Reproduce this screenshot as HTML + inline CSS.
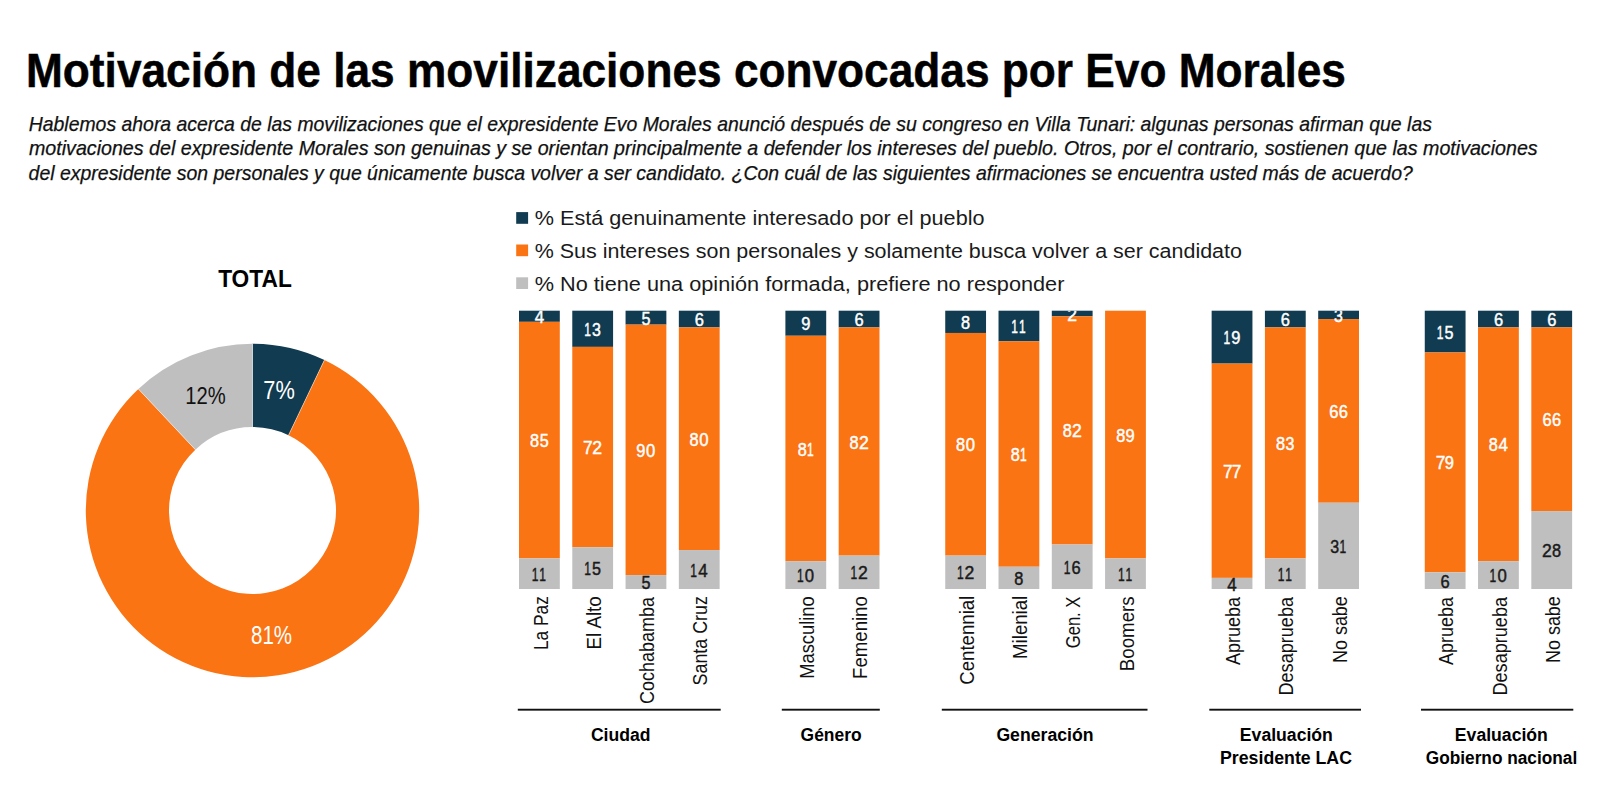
<!DOCTYPE html>
<html lang="es"><head><meta charset="utf-8"><title>Motivación de las movilizaciones convocadas por Evo Morales</title>
<style>
html,body{margin:0;padding:0;background:#fff;width:1600px;height:787px;overflow:hidden}
svg{display:block;font-family:"Liberation Sans",Arial,sans-serif}
</style></head><body>
<svg width="1600" height="787" viewBox="0 0 1600 787">
<defs><clipPath id="plotclip"><rect x="0" y="310.7" width="1600" height="476.3"/></clipPath></defs>
<rect width="1600" height="787" fill="#fff"/>
<text x="26.03" y="87.00" font-size="48.70" font-weight="bold" fill="#000000" textLength="1319.89" lengthAdjust="spacingAndGlyphs" stroke="#000" stroke-width="0.5">Motivación de las movilizaciones convocadas por Evo Morales</text>
<text x="28.72" y="131.00" font-size="20.29" font-style="italic" fill="#111111" textLength="1403.16" lengthAdjust="spacingAndGlyphs" stroke="#111111" stroke-width="0.25">Hablemos ahora acerca de las movilizaciones que el expresidente Evo Morales anunció después de su congreso en Villa Tunari: algunas personas afirman que las</text>
<text x="29.01" y="155.40" font-size="20.29" font-style="italic" fill="#111111" textLength="1508.65" lengthAdjust="spacingAndGlyphs" stroke="#111111" stroke-width="0.25">motivaciones del expresidente Morales son genuinas y se orientan principalmente a defender los intereses del pueblo. Otros, por el contrario, sostienen que las motivaciones</text>
<text x="28.62" y="180.10" font-size="20.29" font-style="italic" fill="#111111" textLength="1384.18" lengthAdjust="spacingAndGlyphs" stroke="#111111" stroke-width="0.25">del expresidente son personales y que únicamente busca volver a ser candidato. ¿Con cuál de las siguientes afirmaciones se encuentra usted más de acuerdo?</text>
<rect x="516.2" y="212.1" width="11.9" height="11.7" fill="#113B50"/>
<text x="534.74" y="225.40" font-size="20.58" fill="#1a1a1a" textLength="449.78" lengthAdjust="spacingAndGlyphs">% Está genuinamente interesado por el pueblo</text>
<rect x="516.2" y="244.5" width="11.9" height="11.7" fill="#FA7414"/>
<text x="534.75" y="257.80" font-size="20.58" fill="#1a1a1a" textLength="707.17" lengthAdjust="spacingAndGlyphs">% Sus intereses son personales y solamente busca volver a ser candidato</text>
<rect x="516.2" y="277.3" width="11.9" height="11.7" fill="#BFBFBF"/>
<text x="534.74" y="290.50" font-size="20.58" fill="#1a1a1a" textLength="529.69" lengthAdjust="spacingAndGlyphs">% No tiene una opinión formada, prefiere no responder</text>
<text x="218.17" y="286.90" font-size="24.35" font-weight="bold" fill="#000000" textLength="73.62" lengthAdjust="spacingAndGlyphs">TOTAL</text>
<path d="M252.50,343.80 A166.7,166.7 0 0 1 324.42,360.11 L288.53,435.17 A83.5,83.5 0 0 0 252.50,427.00 Z" fill="#113B50"/>
<path d="M324.42,360.11 A166.7,166.7 0 1 1 138.39,388.98 L195.34,449.63 A83.5,83.5 0 1 0 288.53,435.17 Z" fill="#FA7414"/>
<path d="M138.39,388.98 A166.7,166.7 0 0 1 252.50,343.80 L252.50,427.00 A83.5,83.5 0 0 0 195.34,449.63 Z" fill="#BFBFBF"/>
<line x1="252.50" y1="427.00" x2="252.50" y2="343.80" stroke="#fff" stroke-width="0.6" stroke-opacity="0.8"/>
<line x1="288.53" y1="435.17" x2="324.42" y2="360.11" stroke="#fff" stroke-width="0.6" stroke-opacity="0.8"/>
<line x1="195.34" y1="449.63" x2="138.39" y2="388.98" stroke="#fff" stroke-width="0.6" stroke-opacity="0.8"/>
<text x="263.31" y="398.80" font-size="25.22" fill="#ffffff" textLength="31.46" lengthAdjust="spacingAndGlyphs">7%</text>
<text x="185.28" y="404.00" font-size="24.64" fill="#111111" textLength="40.45" lengthAdjust="spacingAndGlyphs">12%</text>
<text x="250.98" y="644.30" font-size="25.71" fill="#ffffff" textLength="41.07" lengthAdjust="spacingAndGlyphs">81%</text>
<rect x="519.00" y="310.70" width="40.8" height="11.13" fill="#113B50"/>
<rect x="519.00" y="321.83" width="40.8" height="236.56" fill="#FA7414"/>
<rect x="519.00" y="558.39" width="40.8" height="30.61" fill="#BFBFBF"/>
<g transform="translate(547.50,648.70) rotate(-90)">
<text x="-1.39" y="0.00" font-size="20.87" fill="#111111" textLength="53.92" lengthAdjust="spacingAndGlyphs">La Paz</text>
</g>
<rect x="572.28" y="310.70" width="40.8" height="36.18" fill="#113B50"/>
<rect x="572.28" y="346.88" width="40.8" height="200.38" fill="#FA7414"/>
<rect x="572.28" y="547.26" width="40.8" height="41.74" fill="#BFBFBF"/>
<g transform="translate(600.78,648.00) rotate(-90)">
<text x="-1.50" y="0.00" font-size="20.87" fill="#111111" textLength="53.26" lengthAdjust="spacingAndGlyphs">El Alto</text>
</g>
<rect x="625.56" y="310.70" width="40.8" height="13.91" fill="#113B50"/>
<rect x="625.56" y="324.62" width="40.8" height="250.47" fill="#FA7414"/>
<rect x="625.56" y="575.09" width="40.8" height="13.91" fill="#BFBFBF"/>
<g transform="translate(654.06,703.20) rotate(-90)">
<text x="-0.90" y="0.00" font-size="20.87" fill="#111111" textLength="107.16" lengthAdjust="spacingAndGlyphs">Cochabamba</text>
</g>
<rect x="678.84" y="310.70" width="40.8" height="16.70" fill="#113B50"/>
<rect x="678.84" y="327.40" width="40.8" height="222.64" fill="#FA7414"/>
<rect x="678.84" y="550.04" width="40.8" height="38.96" fill="#BFBFBF"/>
<g transform="translate(707.34,684.60) rotate(-90)">
<text x="-0.80" y="0.00" font-size="20.87" fill="#111111" textLength="89.25" lengthAdjust="spacingAndGlyphs">Santa Cruz</text>
</g>
<rect x="785.40" y="310.70" width="40.8" height="25.05" fill="#113B50"/>
<rect x="785.40" y="335.75" width="40.8" height="225.42" fill="#FA7414"/>
<rect x="785.40" y="561.17" width="40.8" height="27.83" fill="#BFBFBF"/>
<g transform="translate(813.90,677.40) rotate(-90)">
<text x="-1.47" y="0.00" font-size="20.87" fill="#111111" textLength="82.64" lengthAdjust="spacingAndGlyphs">Masculino</text>
</g>
<rect x="838.68" y="310.70" width="40.8" height="16.70" fill="#113B50"/>
<rect x="838.68" y="327.40" width="40.8" height="228.21" fill="#FA7414"/>
<rect x="838.68" y="555.60" width="40.8" height="33.40" fill="#BFBFBF"/>
<g transform="translate(867.18,677.40) rotate(-90)">
<text x="-1.49" y="0.00" font-size="20.87" fill="#111111" textLength="82.67" lengthAdjust="spacingAndGlyphs">Femenino</text>
</g>
<rect x="945.24" y="310.70" width="40.8" height="22.26" fill="#113B50"/>
<rect x="945.24" y="332.96" width="40.8" height="222.64" fill="#FA7414"/>
<rect x="945.24" y="555.60" width="40.8" height="33.40" fill="#BFBFBF"/>
<g transform="translate(973.74,683.80) rotate(-90)">
<text x="-0.93" y="0.00" font-size="20.87" fill="#111111" textLength="88.97" lengthAdjust="spacingAndGlyphs">Centennial</text>
</g>
<rect x="998.52" y="310.70" width="40.8" height="30.61" fill="#113B50"/>
<rect x="998.52" y="341.31" width="40.8" height="225.42" fill="#FA7414"/>
<rect x="998.52" y="566.74" width="40.8" height="22.26" fill="#BFBFBF"/>
<g transform="translate(1027.02,657.40) rotate(-90)">
<text x="-1.49" y="0.00" font-size="20.87" fill="#111111" textLength="63.10" lengthAdjust="spacingAndGlyphs">Milenial</text>
</g>
<rect x="1051.80" y="310.70" width="40.8" height="5.57" fill="#113B50"/>
<rect x="1051.80" y="316.27" width="40.8" height="228.21" fill="#FA7414"/>
<rect x="1051.80" y="544.47" width="40.8" height="44.53" fill="#BFBFBF"/>
<g transform="translate(1080.30,647.40) rotate(-90)">
<text x="-0.83" y="0.00" font-size="20.87" fill="#111111" textLength="51.61" lengthAdjust="spacingAndGlyphs">Gen. X</text>
</g>
<rect x="1105.08" y="310.70" width="40.8" height="247.69" fill="#FA7414"/>
<rect x="1105.08" y="558.39" width="40.8" height="30.61" fill="#BFBFBF"/>
<g transform="translate(1133.58,669.70) rotate(-90)">
<text x="-1.50" y="0.00" font-size="20.87" fill="#111111" textLength="74.88" lengthAdjust="spacingAndGlyphs">Boomers</text>
</g>
<rect x="1211.64" y="310.70" width="40.8" height="52.88" fill="#113B50"/>
<rect x="1211.64" y="363.58" width="40.8" height="214.29" fill="#FA7414"/>
<rect x="1211.64" y="577.87" width="40.8" height="11.13" fill="#BFBFBF"/>
<g transform="translate(1240.14,665.10) rotate(-90)">
<text x="0.00" y="0.00" font-size="20.87" fill="#111111" textLength="68.12" lengthAdjust="spacingAndGlyphs">Aprueba</text>
</g>
<rect x="1264.92" y="310.70" width="40.8" height="16.70" fill="#113B50"/>
<rect x="1264.92" y="327.40" width="40.8" height="230.99" fill="#FA7414"/>
<rect x="1264.92" y="558.39" width="40.8" height="30.61" fill="#BFBFBF"/>
<g transform="translate(1293.42,694.10) rotate(-90)">
<text x="-1.45" y="0.00" font-size="20.87" fill="#111111" textLength="98.61" lengthAdjust="spacingAndGlyphs">Desaprueba</text>
</g>
<rect x="1318.20" y="310.70" width="40.8" height="8.35" fill="#113B50"/>
<rect x="1318.20" y="319.05" width="40.8" height="183.68" fill="#FA7414"/>
<rect x="1318.20" y="502.73" width="40.8" height="86.27" fill="#BFBFBF"/>
<g transform="translate(1346.70,661.50) rotate(-90)">
<text x="-1.43" y="0.00" font-size="20.87" fill="#111111" textLength="66.73" lengthAdjust="spacingAndGlyphs">No sabe</text>
</g>
<rect x="1424.76" y="310.70" width="40.8" height="41.74" fill="#113B50"/>
<rect x="1424.76" y="352.44" width="40.8" height="219.86" fill="#FA7414"/>
<rect x="1424.76" y="572.30" width="40.8" height="16.70" fill="#BFBFBF"/>
<g transform="translate(1453.26,665.10) rotate(-90)">
<text x="0.00" y="0.00" font-size="20.87" fill="#111111" textLength="68.12" lengthAdjust="spacingAndGlyphs">Aprueba</text>
</g>
<rect x="1478.04" y="310.70" width="40.8" height="16.70" fill="#113B50"/>
<rect x="1478.04" y="327.40" width="40.8" height="233.77" fill="#FA7414"/>
<rect x="1478.04" y="561.17" width="40.8" height="27.83" fill="#BFBFBF"/>
<g transform="translate(1506.54,694.10) rotate(-90)">
<text x="-1.45" y="0.00" font-size="20.87" fill="#111111" textLength="98.61" lengthAdjust="spacingAndGlyphs">Desaprueba</text>
</g>
<rect x="1531.32" y="310.70" width="40.8" height="16.70" fill="#113B50"/>
<rect x="1531.32" y="327.40" width="40.8" height="183.68" fill="#FA7414"/>
<rect x="1531.32" y="511.08" width="40.8" height="77.92" fill="#BFBFBF"/>
<g transform="translate(1559.82,661.50) rotate(-90)">
<text x="-1.43" y="0.00" font-size="20.87" fill="#111111" textLength="66.73" lengthAdjust="spacingAndGlyphs">No sabe</text>
</g>
<g clip-path="url(#plotclip)">
<text y="323.34" font-size="17.65" fill="#ffffff" stroke="#ffffff" stroke-width="0.45"><tspan x="534.64" textLength="9.43" lengthAdjust="spacingAndGlyphs">4</tspan></text>
<text y="447.18" font-size="17.65" fill="#ffffff" stroke="#ffffff" stroke-width="0.45"><tspan x="530.10" textLength="9.07" lengthAdjust="spacingAndGlyphs">8</tspan><tspan x="539.78" textLength="8.97" lengthAdjust="spacingAndGlyphs">5</tspan></text>
<text y="580.76" font-size="17.65" fill="#1a1a1a" stroke="#1a1a1a" stroke-width="0.45"><tspan x="531.85" textLength="6.68" lengthAdjust="spacingAndGlyphs">1</tspan><tspan x="539.37" textLength="6.68" lengthAdjust="spacingAndGlyphs">1</tspan></text>
<text y="335.86" font-size="17.65" fill="#ffffff" stroke="#ffffff" stroke-width="0.45"><tspan x="584.20" textLength="6.68" lengthAdjust="spacingAndGlyphs">1</tspan><tspan x="591.89" textLength="8.87" lengthAdjust="spacingAndGlyphs">3</tspan></text>
<text y="454.14" font-size="17.65" fill="#ffffff" stroke="#ffffff" stroke-width="0.45"><tspan x="583.12" textLength="9.59" lengthAdjust="spacingAndGlyphs">7</tspan><tspan x="592.13" textLength="9.81" lengthAdjust="spacingAndGlyphs">2</tspan></text>
<text y="575.20" font-size="17.65" fill="#1a1a1a" stroke="#1a1a1a" stroke-width="0.45"><tspan x="584.21" textLength="6.68" lengthAdjust="spacingAndGlyphs">1</tspan><tspan x="592.07" textLength="8.97" lengthAdjust="spacingAndGlyphs">5</tspan></text>
<text y="324.73" font-size="17.65" fill="#ffffff" stroke="#ffffff" stroke-width="0.45"><tspan x="641.59" textLength="8.97" lengthAdjust="spacingAndGlyphs">5</tspan></text>
<text y="456.92" font-size="17.65" fill="#ffffff" stroke="#ffffff" stroke-width="0.45"><tspan x="636.19" textLength="9.17" lengthAdjust="spacingAndGlyphs">9</tspan><tspan x="646.00" textLength="9.30" lengthAdjust="spacingAndGlyphs">0</tspan></text>
<text y="589.11" font-size="17.65" fill="#1a1a1a" stroke="#1a1a1a" stroke-width="0.45"><tspan x="641.59" textLength="8.97" lengthAdjust="spacingAndGlyphs">5</tspan></text>
<text y="326.12" font-size="17.65" fill="#ffffff" stroke="#ffffff" stroke-width="0.45"><tspan x="694.69" textLength="9.17" lengthAdjust="spacingAndGlyphs">6</tspan></text>
<text y="445.79" font-size="17.65" fill="#ffffff" stroke="#ffffff" stroke-width="0.45"><tspan x="689.55" textLength="9.07" lengthAdjust="spacingAndGlyphs">8</tspan><tspan x="699.30" textLength="9.30" lengthAdjust="spacingAndGlyphs">0</tspan></text>
<text y="576.59" font-size="17.65" fill="#1a1a1a" stroke="#1a1a1a" stroke-width="0.45"><tspan x="690.35" textLength="6.68" lengthAdjust="spacingAndGlyphs">1</tspan><tspan x="698.24" textLength="9.43" lengthAdjust="spacingAndGlyphs">4</tspan></text>
<text y="330.29" font-size="17.65" fill="#ffffff" stroke="#ffffff" stroke-width="0.45"><tspan x="801.14" textLength="9.17" lengthAdjust="spacingAndGlyphs">9</tspan></text>
<text y="455.53" font-size="17.65" fill="#ffffff" stroke="#ffffff" stroke-width="0.45"><tspan x="797.66" textLength="9.07" lengthAdjust="spacingAndGlyphs">8</tspan><tspan x="807.00" textLength="6.68" lengthAdjust="spacingAndGlyphs">1</tspan></text>
<text y="582.16" font-size="17.65" fill="#1a1a1a" stroke="#1a1a1a" stroke-width="0.45"><tspan x="796.94" textLength="6.68" lengthAdjust="spacingAndGlyphs">1</tspan><tspan x="804.87" textLength="9.30" lengthAdjust="spacingAndGlyphs">0</tspan></text>
<text y="326.12" font-size="17.65" fill="#ffffff" stroke="#ffffff" stroke-width="0.45"><tspan x="854.53" textLength="9.17" lengthAdjust="spacingAndGlyphs">6</tspan></text>
<text y="448.57" font-size="17.65" fill="#ffffff" stroke="#ffffff" stroke-width="0.45"><tspan x="849.59" textLength="9.07" lengthAdjust="spacingAndGlyphs">8</tspan><tspan x="858.95" textLength="9.81" lengthAdjust="spacingAndGlyphs">2</tspan></text>
<text y="579.37" font-size="17.65" fill="#1a1a1a" stroke="#1a1a1a" stroke-width="0.45"><tspan x="850.42" textLength="6.68" lengthAdjust="spacingAndGlyphs">1</tspan><tspan x="857.95" textLength="9.81" lengthAdjust="spacingAndGlyphs">2</tspan></text>
<text y="328.90" font-size="17.65" fill="#ffffff" stroke="#ffffff" stroke-width="0.45"><tspan x="961.06" textLength="9.07" lengthAdjust="spacingAndGlyphs">8</tspan></text>
<text y="451.35" font-size="17.65" fill="#ffffff" stroke="#ffffff" stroke-width="0.45"><tspan x="955.95" textLength="9.07" lengthAdjust="spacingAndGlyphs">8</tspan><tspan x="965.70" textLength="9.30" lengthAdjust="spacingAndGlyphs">0</tspan></text>
<text y="579.37" font-size="17.65" fill="#1a1a1a" stroke="#1a1a1a" stroke-width="0.45"><tspan x="956.98" textLength="6.68" lengthAdjust="spacingAndGlyphs">1</tspan><tspan x="964.51" textLength="9.81" lengthAdjust="spacingAndGlyphs">2</tspan></text>
<text y="333.08" font-size="17.65" fill="#ffffff" stroke="#ffffff" stroke-width="0.45"><tspan x="1011.37" textLength="6.68" lengthAdjust="spacingAndGlyphs">1</tspan><tspan x="1018.89" textLength="6.68" lengthAdjust="spacingAndGlyphs">1</tspan></text>
<text y="461.09" font-size="17.65" fill="#ffffff" stroke="#ffffff" stroke-width="0.45"><tspan x="1010.78" textLength="9.07" lengthAdjust="spacingAndGlyphs">8</tspan><tspan x="1020.12" textLength="6.68" lengthAdjust="spacingAndGlyphs">1</tspan></text>
<text y="584.94" font-size="17.65" fill="#1a1a1a" stroke="#1a1a1a" stroke-width="0.45"><tspan x="1014.34" textLength="9.07" lengthAdjust="spacingAndGlyphs">8</tspan></text>
<text y="320.55" font-size="17.65" fill="#ffffff" stroke="#ffffff" stroke-width="0.45"><tspan x="1067.32" textLength="9.81" lengthAdjust="spacingAndGlyphs">2</tspan></text>
<text y="437.44" font-size="17.65" fill="#ffffff" stroke="#ffffff" stroke-width="0.45"><tspan x="1062.71" textLength="9.07" lengthAdjust="spacingAndGlyphs">8</tspan><tspan x="1072.07" textLength="9.81" lengthAdjust="spacingAndGlyphs">2</tspan></text>
<text y="573.81" font-size="17.65" fill="#1a1a1a" stroke="#1a1a1a" stroke-width="0.45"><tspan x="1063.73" textLength="6.68" lengthAdjust="spacingAndGlyphs">1</tspan><tspan x="1071.41" textLength="9.17" lengthAdjust="spacingAndGlyphs">6</tspan></text>
<text y="441.61" font-size="17.65" fill="#ffffff" stroke="#ffffff" stroke-width="0.45"><tspan x="1116.16" textLength="9.07" lengthAdjust="spacingAndGlyphs">8</tspan><tspan x="1125.57" textLength="9.17" lengthAdjust="spacingAndGlyphs">9</tspan></text>
<text y="580.76" font-size="17.65" fill="#1a1a1a" stroke="#1a1a1a" stroke-width="0.45"><tspan x="1117.93" textLength="6.68" lengthAdjust="spacingAndGlyphs">1</tspan><tspan x="1125.45" textLength="6.68" lengthAdjust="spacingAndGlyphs">1</tspan></text>
<text y="344.21" font-size="17.65" fill="#ffffff" stroke="#ffffff" stroke-width="0.45"><tspan x="1223.55" textLength="6.68" lengthAdjust="spacingAndGlyphs">1</tspan><tspan x="1231.13" textLength="9.17" lengthAdjust="spacingAndGlyphs">9</tspan></text>
<text y="477.79" font-size="17.65" fill="#ffffff" stroke="#ffffff" stroke-width="0.45"><tspan x="1223.05" textLength="9.59" lengthAdjust="spacingAndGlyphs">7</tspan><tspan x="1231.72" textLength="9.59" lengthAdjust="spacingAndGlyphs">7</tspan></text>
<text y="590.50" font-size="17.65" fill="#1a1a1a" stroke="#1a1a1a" stroke-width="0.45"><tspan x="1227.28" textLength="9.43" lengthAdjust="spacingAndGlyphs">4</tspan></text>
<text y="326.12" font-size="17.65" fill="#ffffff" stroke="#ffffff" stroke-width="0.45"><tspan x="1280.77" textLength="9.17" lengthAdjust="spacingAndGlyphs">6</tspan></text>
<text y="449.96" font-size="17.65" fill="#ffffff" stroke="#ffffff" stroke-width="0.45"><tspan x="1276.01" textLength="9.07" lengthAdjust="spacingAndGlyphs">8</tspan><tspan x="1285.52" textLength="8.87" lengthAdjust="spacingAndGlyphs">3</tspan></text>
<text y="580.76" font-size="17.65" fill="#1a1a1a" stroke="#1a1a1a" stroke-width="0.45"><tspan x="1277.77" textLength="6.68" lengthAdjust="spacingAndGlyphs">1</tspan><tspan x="1285.29" textLength="6.68" lengthAdjust="spacingAndGlyphs">1</tspan></text>
<text y="321.94" font-size="17.65" fill="#ffffff" stroke="#ffffff" stroke-width="0.45"><tspan x="1334.05" textLength="8.87" lengthAdjust="spacingAndGlyphs">3</tspan></text>
<text y="417.96" font-size="17.65" fill="#ffffff" stroke="#ffffff" stroke-width="0.45"><tspan x="1329.34" textLength="9.17" lengthAdjust="spacingAndGlyphs">6</tspan><tspan x="1338.77" textLength="9.17" lengthAdjust="spacingAndGlyphs">6</tspan></text>
<text y="552.93" font-size="17.65" fill="#1a1a1a" stroke="#1a1a1a" stroke-width="0.45"><tspan x="1330.35" textLength="8.87" lengthAdjust="spacingAndGlyphs">3</tspan><tspan x="1339.62" textLength="6.68" lengthAdjust="spacingAndGlyphs">1</tspan></text>
<text y="338.64" font-size="17.65" fill="#ffffff" stroke="#ffffff" stroke-width="0.45"><tspan x="1436.69" textLength="6.68" lengthAdjust="spacingAndGlyphs">1</tspan><tspan x="1444.55" textLength="8.97" lengthAdjust="spacingAndGlyphs">5</tspan></text>
<text y="469.44" font-size="17.65" fill="#ffffff" stroke="#ffffff" stroke-width="0.45"><tspan x="1435.77" textLength="9.59" lengthAdjust="spacingAndGlyphs">7</tspan><tspan x="1444.83" textLength="9.17" lengthAdjust="spacingAndGlyphs">9</tspan></text>
<text y="587.72" font-size="17.65" fill="#1a1a1a" stroke="#1a1a1a" stroke-width="0.45"><tspan x="1440.61" textLength="9.17" lengthAdjust="spacingAndGlyphs">6</tspan></text>
<text y="326.12" font-size="17.65" fill="#ffffff" stroke="#ffffff" stroke-width="0.45"><tspan x="1493.89" textLength="9.17" lengthAdjust="spacingAndGlyphs">6</tspan></text>
<text y="451.35" font-size="17.65" fill="#ffffff" stroke="#ffffff" stroke-width="0.45"><tspan x="1488.72" textLength="9.07" lengthAdjust="spacingAndGlyphs">8</tspan><tspan x="1498.43" textLength="9.43" lengthAdjust="spacingAndGlyphs">4</tspan></text>
<text y="582.15" font-size="17.65" fill="#1a1a1a" stroke="#1a1a1a" stroke-width="0.45"><tspan x="1489.58" textLength="6.68" lengthAdjust="spacingAndGlyphs">1</tspan><tspan x="1497.51" textLength="9.30" lengthAdjust="spacingAndGlyphs">0</tspan></text>
<text y="326.12" font-size="17.65" fill="#ffffff" stroke="#ffffff" stroke-width="0.45"><tspan x="1547.17" textLength="9.17" lengthAdjust="spacingAndGlyphs">6</tspan></text>
<text y="426.31" font-size="17.65" fill="#ffffff" stroke="#ffffff" stroke-width="0.45"><tspan x="1542.46" textLength="9.17" lengthAdjust="spacingAndGlyphs">6</tspan><tspan x="1551.89" textLength="9.17" lengthAdjust="spacingAndGlyphs">6</tspan></text>
<text y="557.11" font-size="17.65" fill="#1a1a1a" stroke="#1a1a1a" stroke-width="0.45"><tspan x="1542.08" textLength="9.81" lengthAdjust="spacingAndGlyphs">2</tspan><tspan x="1552.04" textLength="9.07" lengthAdjust="spacingAndGlyphs">8</tspan></text>
</g>
<rect x="517.8" y="708.75" width="202.9" height="1.9" fill="#111"/>
<rect x="781.8" y="708.75" width="98.0" height="1.9" fill="#111"/>
<rect x="941.8" y="708.75" width="205.7" height="1.9" fill="#111"/>
<rect x="1209.3" y="708.75" width="151.7" height="1.9" fill="#111"/>
<rect x="1421" y="708.75" width="152.3" height="1.9" fill="#111"/>
<text x="590.90" y="740.90" font-size="18.99" font-weight="bold" fill="#000000" textLength="59.63" lengthAdjust="spacingAndGlyphs">Ciudad</text>
<text x="800.60" y="740.90" font-size="18.99" font-weight="bold" fill="#000000" textLength="61.01" lengthAdjust="spacingAndGlyphs">Género</text>
<text x="996.39" y="741.20" font-size="18.99" font-weight="bold" fill="#000000" textLength="97.10" lengthAdjust="spacingAndGlyphs">Generación</text>
<text x="1239.86" y="741.20" font-size="18.99" font-weight="bold" fill="#000000" textLength="93.00" lengthAdjust="spacingAndGlyphs">Evaluación</text>
<text x="1220.05" y="764.00" font-size="18.99" font-weight="bold" fill="#000000" textLength="131.92" lengthAdjust="spacingAndGlyphs">Presidente LAC</text>
<text x="1454.86" y="741.20" font-size="18.99" font-weight="bold" fill="#000000" textLength="93.00" lengthAdjust="spacingAndGlyphs">Evaluación</text>
<text x="1425.81" y="764.00" font-size="18.99" font-weight="bold" fill="#000000" textLength="151.38" lengthAdjust="spacingAndGlyphs">Gobierno nacional</text>
</svg>
</body></html>
